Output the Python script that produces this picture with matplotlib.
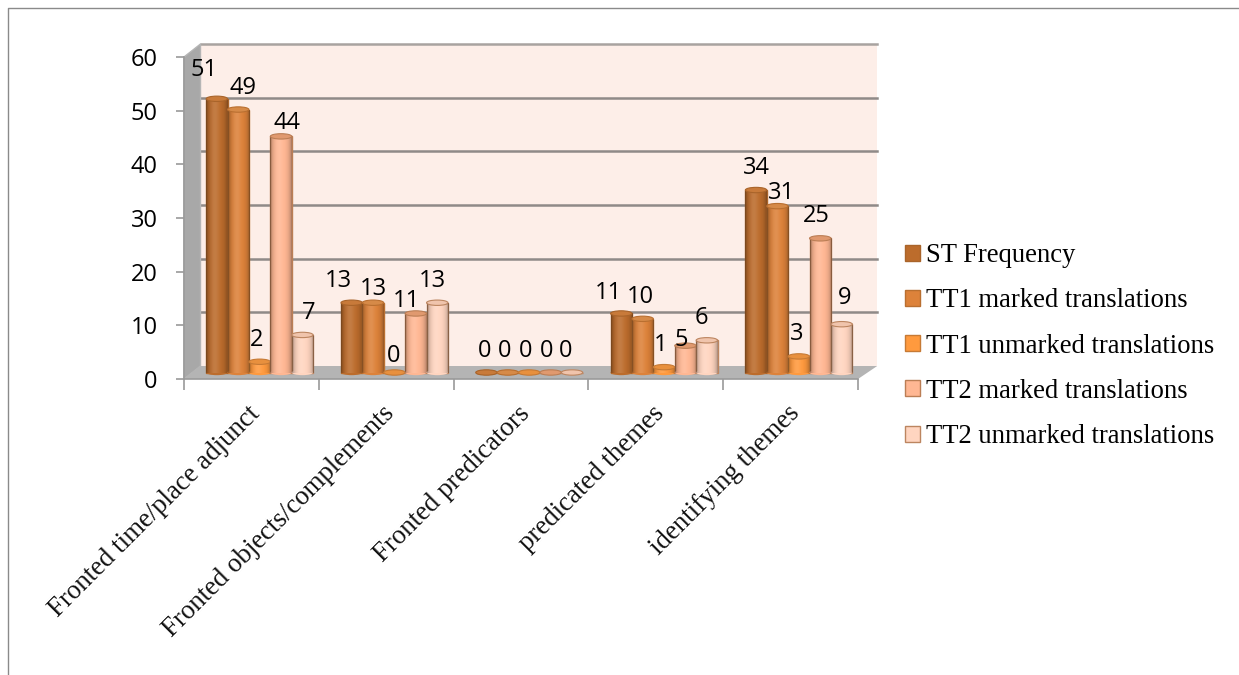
import numpy as np
import matplotlib
matplotlib.use('Agg')
import matplotlib.pyplot as plt
from matplotlib.lines import Line2D
from matplotlib.patches import Ellipse, Polygon

categories = ['Fronted time/place adjunct', 'Fronted objects/complements',
              'Fronted predicators', 'predicated themes', 'identifying themes']
st_frequency = [51, 13, 0, 11, 34]
tt1_marked = [49, 13, 0, 10, 31]
tt1_unmarked = [2, 0, 0, 1, 3]
tt2_marked = [44, 11, 0, 5, 25]
tt2_unmarked = [7, 13, 0, 6, 9]
y_ticks = [0, 10, 20, 30, 40, 50, 60]

series_names = ['ST Frequency', 'TT1 marked translations', 'TT1 unmarked translations',
                'TT2 marked translations', 'TT2 unmarked translations']
series_values = [st_frequency, tt1_marked, tt1_unmarked, tt2_marked, tt2_unmarked]
colors = ['#BC6C2C', '#DD823A', '#FF9A3E', '#FFB793', '#FFD5C0']
edges = ['#A9642A', '#B96F30', '#C67A35', '#BB7E55', '#BC8560']
caps = ['#C87A3A', '#D68A48', '#E8903E', '#E0996F', '#F0C4AC']

# label offsets in pixels from the top of each bar, one row per series
label_dx = [[-13, -13, -2, -13, 0], [5, 0, -3, -2, 4], [-3, -1, -4, -3, -2],
            [6, -9, -4, -4, -4], [6, -5, -6, -5, 3]]
label_dy = [[29, 22, 22, 20, 22], [22, 14, 22, 22, 13], [22, 17, 22, 22, 22],
            [13, 12, 22, 6, 22], [22, 22, 22, 22, 26]]

fig = plt.figure(figsize=(12.39, 6.75), dpi=100)
ax = fig.add_axes([184 / 1239, (675 - 379) / 675, (858 - 184) / 1239, (379 - 57) / 675])

# depth of the floor in data units
depth_x = 16.5 / 134.8
depth_y = 13 / 5.367
bar_w = 21.4 / 134.8

# walls and floor
ax.add_patch(Polygon([(depth_x, depth_y), (5 + depth_x + 0.02, depth_y),
                      (5 + depth_x + 0.02, 60 + depth_y), (depth_x, 60 + depth_y)],
                     facecolor='#FDEEE8', edgecolor='none', zorder=1, clip_on=False))
ax.add_patch(Polygon([(0, 0), (depth_x, depth_y), (depth_x, 60 + depth_y), (0, 60)],
                     facecolor='#A8A8A8', edgecolor='#B5B5B5', zorder=1.2, clip_on=False))
ax.add_patch(Polygon([(0, 0), (5, 0), (5 + depth_x + 0.02, depth_y), (depth_x, depth_y)],
                     facecolor='#B4B4B4', edgecolor='none', zorder=1.3, clip_on=False))
for v in y_ticks[1:]:
    ax.add_line(Line2D([depth_x, 5 + depth_x + 0.02], [v + depth_y, v + depth_y],
                       color='#A8A3A0' if v == 60 else '#8F8A88', lw=1.8, zorder=1.1,
                       clip_on=False))

# shading across a cylinder: dark at the edges, a bit of light left of centre
t = np.linspace(0, 1, 60)
shade = np.zeros((1, 60, 4))
shade[0, :, 3] = 0.3 * np.abs(2 * t - 1) ** 3
highlight = np.zeros((1, 60, 4))
highlight[0, :, :3] = 1
highlight[0, :, 3] = 0.12 * np.exp(-((t - 0.4) / 0.2) ** 2)

base = depth_y / 2
ellipse_h = 1.0
containers = []
for s, (name, vals) in enumerate(zip(series_names, series_values)):
    z = 3 + s
    xs = np.arange(5) + 0.5 + depth_x / 2 + (s - 2) * bar_w
    bars = ax.bar(xs, vals, bar_w, bottom=base, color=colors[s], edgecolor=edges[s],
                  linewidth=1.0, label=name, zorder=z)
    containers.append(bars)
    for i, (x, v) in enumerate(zip(xs, vals)):
        top = base + v
        # bottom of the cylinder sits over the flat end of the bar
        ax.add_patch(Ellipse((x, base), bar_w, ellipse_h, facecolor=colors[s],
                             edgecolor='none', zorder=z + 0.05))
        if v > 0:
            ax.imshow(shade, extent=(x - bar_w / 2, x + bar_w / 2, base, top),
                      aspect='auto', zorder=z + 0.1)
            ax.imshow(highlight, extent=(x - bar_w / 2, x + bar_w / 2, base, top),
                      aspect='auto', zorder=z + 0.1)
        ax.add_patch(Ellipse((x, top), bar_w, ellipse_h, facecolor=caps[s],
                             edgecolor=edges[s], lw=0.8, zorder=z + 0.2))
        ax.annotate(str(v), (x, top), xytext=(label_dx[s][i], label_dy[s][i]),
                    textcoords='offset pixels', ha='center', va='center',
                    family='Open Sans', fontsize=17, color='black', zorder=20)

ax.set_xlim(0, 5)
ax.set_ylim(0, 60)
ax.set_facecolor('none')
for side in ['top', 'right']:
    ax.spines[side].set_visible(False)
for side in ['left', 'bottom']:
    ax.spines[side].set_color('#9A9A9A')
    ax.spines[side].set_linewidth(1.2)

ax.set_xticks(np.arange(6))
ax.set_xticklabels([])
ax.set_yticks(y_ticks)
ax.tick_params(axis='y', length=6, width=1.2, color='#9A9A9A', labelsize=17, pad=13)
ax.tick_params(axis='x', length=8, width=1.2, color='#9A9A9A')
for lab in ax.get_yticklabels():
    lab.set_family('Open Sans')

# category labels hang off the middle of each group
for i, cat in enumerate(categories):
    ax.annotate(cat, (i + 0.5, 0), xytext=(-4, -22), textcoords='offset pixels',
                rotation=45, rotation_mode='anchor', ha='right', va='top',
                family='Liberation Serif', fontsize=19.4, color='#111111')

leg = fig.legend(handles=[c.patches[0] for c in containers], labels=series_names,
                 loc='upper left', bbox_to_anchor=(897 / 1239, 1 - 235 / 675),
                 frameon=False, prop={'family': 'Liberation Serif', 'size': 19.2},
                 handlelength=0.55, handleheight=0.55, handletextpad=0.22,
                 labelspacing=0.76, borderpad=0.3, borderaxespad=0)

# thin page border seen at top and left
fig.add_artist(Line2D([8 / 1239, 8 / 1239, 1], [0, 1 - 8 / 675, 1 - 8 / 675],
                      color='#8A8A8A', lw=1.0))

fig.savefig('out.png', dpi=100)
